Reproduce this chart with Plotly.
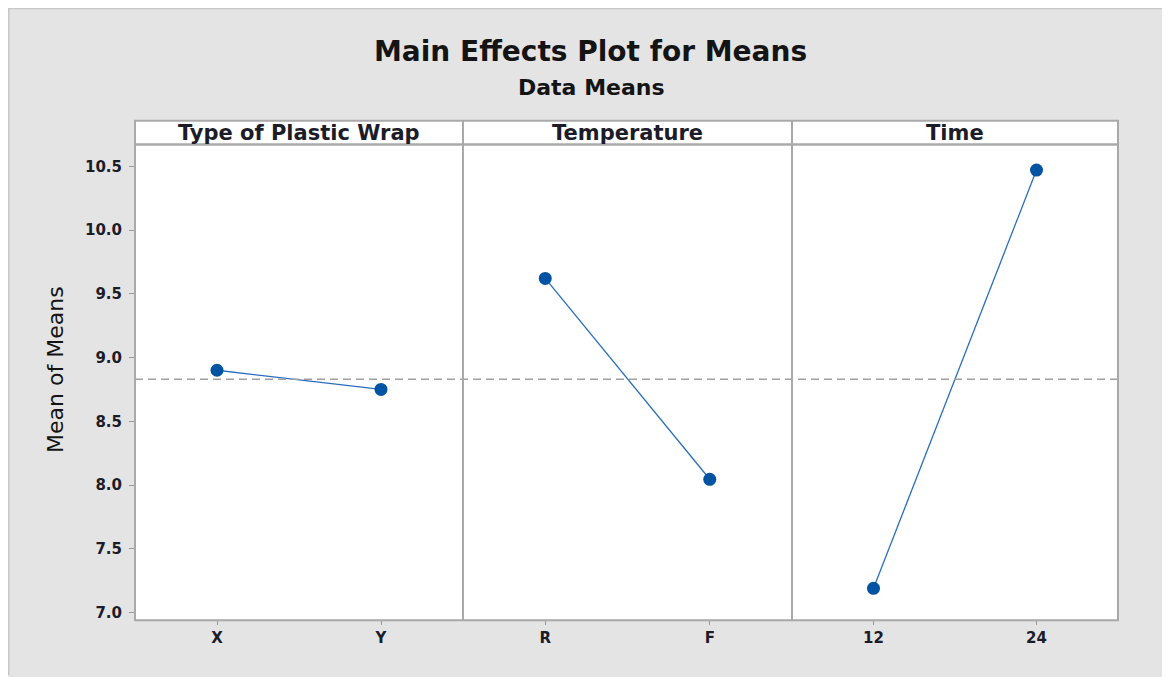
import plotly.graph_objects as go

# ---------------- data ----------------
factors = ["Type of Plastic Wrap", "Temperature", "Time"]
levels_wrap = ["X", "Y"]
levels_temp = ["R", "F"]
levels_time = ["12", "24"]
means_wrap = [8.90, 8.75]
means_temp = [9.62, 8.045]
means_time = [7.19, 10.47]
grand_mean = 8.83
y_ticks = [7.0, 7.5, 8.0, 8.5, 9.0, 9.5, 10.0, 10.5]
y_tick_labels = ["7.0", "7.5", "8.0", "8.5", "9.0", "9.5", "10.0", "10.5"]

levels = [levels_wrap, levels_temp, levels_time]
means = [means_wrap, means_temp, means_time]

# ---------------- geometry (page pixels; page has 8px body margin) ----------------
OFF = 8
W, H = 1170 - OFF, 677 - OFF
PL, PR = 135, 1118          # plot area left / right
PT, PB = 145, 622           # plot area top / bottom
HT = 121                    # header strip top
SPLITS = [135, 463, 792, 1118]

def px(x):
    return (x - OFF) / W

def py(y):
    return 1 - (y - OFF) / H

FONT = "DejaVu Sans"
TXT = "#1c1c28"
FRAME = "#a9a9a9"
MARK = "#0052a3"
LINE = "#2a6dbd"

fig = go.Figure()

axis_names = ["x", "x2", "x3"]
for i in range(3):
    fig.add_trace(go.Scatter(
        x=levels[i], y=means[i],
        xaxis=axis_names[i], yaxis="y",
        mode="lines+markers",
        line=dict(color=LINE, width=1.3),
        marker=dict(color=MARK, size=13, symbol="circle"),
        showlegend=False, hoverinfo="x+y",
    ))

common_x = dict(
    type="category", range=[-0.5, 1.5], showgrid=False, zeroline=False,
    showline=False, ticks="outside", ticklen=4, tickwidth=1, tickcolor="#9a9a9a",
    tickfont=dict(family=FONT, size=15, color=TXT, weight="bold"),
    anchor="y", fixedrange=True,
)
layout_axes = {}
for i, name in enumerate(["xaxis", "xaxis2", "xaxis3"]):
    d = dict(common_x)
    d["domain"] = [px(SPLITS[i]), px(SPLITS[i + 1])]
    d["categoryorder"] = "array"
    d["categoryarray"] = levels[i]
    layout_axes[name] = d

fig.update_layout(**layout_axes)
fig.update_layout(
    yaxis=dict(
        domain=[py(PB), py(PT)],
        range=[6.94, 10.67],
        tickvals=y_ticks, ticktext=y_tick_labels,
        showgrid=False, zeroline=False, showline=False,
        ticks="outside", ticklen=5, tickwidth=1, tickcolor="#9a9a9a",
        ticklabelstandoff=4,
        tickfont=dict(family=FONT, size=15, color=TXT, weight="bold"),
        anchor="x", fixedrange=True,
    ),
    width=W, height=H,
    margin=dict(l=0, r=0, t=0, b=0),
    paper_bgcolor="#e4e4e4",
    plot_bgcolor="white",
)

shapes = []
# outer border (top & left)
shapes.append(dict(type="line", xref="paper", yref="paper", x0=0.0005, x1=0.0005, y0=0, y1=1,
                   line=dict(color="#c8c8c8", width=2)))
shapes.append(dict(type="line", xref="paper", yref="paper", x0=0, x1=1, y0=0.9995, y1=0.9995,
                   line=dict(color="#c8c8c8", width=2)))
# header strip
shapes.append(dict(type="rect", xref="paper", yref="paper", x0=px(PL), x1=px(PR), y0=py(PT), y1=py(HT),
                   fillcolor="white", line=dict(color=FRAME, width=2)))
# grand mean reference line
shapes.append(dict(type="line", xref="paper", yref="y", x0=px(PL), x1=px(PR), y0=grand_mean, y1=grand_mean,
                   line=dict(color="#a0a0a0", width=1.5, dash="8px,5px")))
# plot frame
shapes.append(dict(type="rect", xref="paper", yref="paper", x0=px(PL), x1=px(PR), y0=py(PB), y1=py(PT),
                   line=dict(color=FRAME, width=2)))
for s in SPLITS[1:-1]:
    shapes.append(dict(type="line", xref="paper", yref="paper", x0=px(s), x1=px(s), y0=py(PB), y1=py(HT),
                       line=dict(color=FRAME, width=2)))
fig.update_layout(shapes=shapes)

annotations = []
for i, f in enumerate(factors):
    annotations.append(dict(
        text=f, xref="paper", yref="paper",
        x=px((SPLITS[i] + SPLITS[i + 1]) / 2), y=py(133),
        xanchor="center", yanchor="middle", showarrow=False,
        font=dict(family=FONT, size=21, color=TXT, weight="bold"),
    ))
annotations.append(dict(
    text="Main Effects Plot for Means", xref="paper", yref="paper",
    x=px(590), y=py(52), xanchor="center", yanchor="middle", showarrow=False,
    font=dict(family=FONT, size=28, color="#141414", weight="bold"),
))
annotations.append(dict(
    text="Data Means", xref="paper", yref="paper",
    x=px(591), y=py(88), xanchor="center", yanchor="middle", showarrow=False,
    font=dict(family=FONT, size=22, color="#141414", weight="bold"),
))
annotations.append(dict(
    text="Mean of Means", xref="paper", yref="paper",
    x=px(56), y=py(371), xanchor="center", yanchor="middle", showarrow=False,
    textangle=-90,
    font=dict(family=FONT, size=22, color="#141414"),
))
fig.update_layout(annotations=annotations)

fig.write_html("out.html")
